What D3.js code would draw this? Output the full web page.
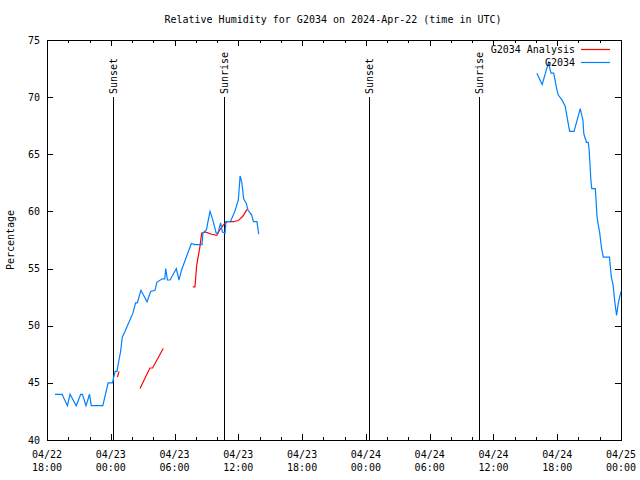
<!DOCTYPE html>
<html><head><meta charset="utf-8">
<script src="https://cdn.jsdelivr.net/npm/d3@7"></script>
<style>
body{margin:0;background:#fff;}
svg{display:block;}
text{font-family:"DejaVu Sans Mono","Liberation Mono",monospace;font-size:10px;fill:#000;}
</style></head><body>
<svg id="c" width="640" height="480"></svg>
<script>
const title = "Relative Humidity for G2034 on 2024-Apr-22 (time in UTC)";
const yLabel = "Percentage";
const yTicks = [40,45,50,55,60,65,70,75];
const xDomain = ["04-22 18:00","04-25 00:00"];

// Observed series "G2034" (null marks a gap)
const obsTimes = ["04-22 18:45","04-22 19:25","04-22 19:55","04-22 20:10","04-22 20:45","04-22 21:10","04-22 21:20","04-22 21:40","04-22 22:00","04-22 22:10","04-22 23:15","04-22 23:45",
"04-23 00:10","04-23 00:15","04-23 00:25","04-23 00:35","04-23 00:45","04-23 00:55","04-23 01:05","04-23 01:20","04-23 02:05","04-23 02:20","04-23 02:30","04-23 02:50","04-23 03:25","04-23 03:45","04-23 04:10","04-23 04:20","04-23 04:50","04-23 05:05","04-23 05:10","04-23 05:20","04-23 05:35","04-23 06:10","04-23 06:25","04-23 06:40","04-23 07:35","04-23 07:55","04-23 08:35","04-23 08:40","04-23 09:00","04-23 09:20","04-23 09:35","04-23 09:55","04-23 10:05","04-23 10:20","04-23 10:30","04-23 10:45","04-23 10:50","04-23 11:15","04-23 11:40","04-23 12:00","04-23 12:10","04-23 12:20","04-23 12:30","04-23 12:45","04-23 12:55","04-23 13:15","04-23 13:25","04-23 13:45","04-23 13:55",
"04-24 00:00",
"04-24 16:05","04-24 16:35","04-24 17:10","04-24 17:25","04-24 17:40","04-24 17:55","04-24 18:05","04-24 18:25","04-24 18:45","04-24 19:10","04-24 19:35","04-24 20:10","04-24 20:25","04-24 20:30","04-24 20:45","04-24 20:55","04-24 21:00","04-24 21:05","04-24 21:10","04-24 21:15","04-24 21:35","04-24 21:45","04-24 21:50","04-24 22:00","04-24 22:10","04-24 22:20","04-24 22:55","04-24 23:05","04-24 23:15","04-24 23:25","04-24 23:35","04-24 23:45","04-25 00:00"];
const obsValues = [44,44,43,44,43,44,44,43,44,43,43,45,
45,45.4,46,46,46.9,47.7,49,49.5,51.1,52,52,53.1,52.1,53,53.1,53.8,54.1,54.1,55,54,54,55,54,54.9,57.2,57.1,57.1,58.1,58.4,60,59.3,58.1,58.1,59,58.2,58.1,59.1,59.1,60,61,63.1,62.5,61.1,60.7,60.1,59.7,59.1,59.1,58,
null,
72.1,71.1,73,72.1,72.1,70.9,70.2,69.8,69.2,67,67,69,68,66.8,66.05,66.05,65.4,64.1,62.75,62,62,59.5,59,58.1,56.8,56,56,54.3,53.6,52.1,50.9,52,53];

// Analysis series "G2034 Analysis"
const anaTimes = ["04-23 00:38","04-23 00:46","04-23 01:30",
"04-23 02:45","04-23 03:41","04-23 03:56","04-23 04:56","04-23 06:00",
"04-23 07:43","04-23 07:55","04-23 08:05","04-23 08:23","04-23 08:33","04-23 08:52","04-23 09:29","04-23 09:58","04-23 10:16","04-23 10:35","04-23 10:54","04-23 11:32","04-23 12:00","04-23 12:26","04-23 12:50"];
const anaValues = [45.5,46.0,null,
44.5,46.3,46.3,48.0,null,
53.4,53.4,55.3,56.9,58.1,58.2,58.0,57.9,58.4,58.8,59.1,59.1,59.2,59.6,60.2];

const sunTimes = ["04-23 00:13","04-23 10:39","04-24 00:17","04-24 10:38"];
const sunLabels = ["Sunset","Sunrise","Sunset","Sunrise"];

const legendNames = ["G2034 Analysis","G2034"];
const colors = {ana:"#ff0000", obs:"#0080ff"};

const parse = s => d3.utcParse("%Y-%m-%d %H:%M")("2024-" + s);
const svg = d3.select("#c");
const L=47, R=621, T=40, B=440;
const x = d3.scaleUtc().domain(xDomain.map(parse)).range([L,R]);
const y = d3.scaleLinear().domain([40,75]).range([B,T]);

// title
svg.append("text").attr("x",333).attr("y",23).attr("text-anchor","middle").text(title);
// y label
svg.append("text").attr("transform","translate(14,240) rotate(-90)").attr("text-anchor","middle").text(yLabel);

const g = svg.append("g").attr("shape-rendering","crispEdges");
// ticks
const ticks = d3.utcHour.every(2).range(x.domain()[0], new Date(+x.domain()[1]+1));
ticks.forEach(t=>{
  const major = t.getUTCHours()%6===0;
  const len = major?6:3;
  const xx = Math.round(x(t))+0.5;
  g.append("line").attr("x1",xx).attr("x2",xx).attr("y1",B).attr("y2",B-len).attr("stroke","#000");
  g.append("line").attr("x1",xx).attr("x2",xx).attr("y1",T).attr("y2",T+len).attr("stroke","#000");
  if(major){
    svg.append("text").attr("x",x(t)).attr("y",458).attr("text-anchor","middle").text(d3.utcFormat("%m/%d")(t));
    svg.append("text").attr("x",x(t)).attr("y",471).attr("text-anchor","middle").text(d3.utcFormat("%H:%M")(t));
  }
});
yTicks.forEach(v=>{
  const yy = Math.round(y(v))+0.5;
  g.append("line").attr("x1",L).attr("x2",L+6).attr("y1",yy).attr("y2",yy).attr("stroke","#000");
  g.append("line").attr("x1",R).attr("x2",R-6).attr("y1",yy).attr("y2",yy).attr("stroke","#000");
  svg.append("text").attr("x",40).attr("y",y(v)).attr("dy","0.35em").attr("text-anchor","end").text(v);
});
// border
g.append("rect").attr("x",L+0.5).attr("y",T+0.5).attr("width",R-L).attr("height",B-T).attr("fill","none").attr("stroke","#000");

// sun lines
sunTimes.forEach((s,i)=>{
  const xx = Math.round(x(parse(s)))+0.5;
  g.append("line").attr("x1",xx).attr("x2",xx).attr("y1",y(70)).attr("y2",B).attr("stroke","#000");
  svg.append("text").attr("transform",`translate(${xx},94) rotate(-90)`).attr("dy","0.35em").attr("text-anchor","start").text(sunLabels[i]);
});

const mk = (ts,vs)=>ts.map((t,i)=>({t:parse(t),v:vs[i]}));
const line = d3.line().defined(d=>d.v!=null).x(d=>x(d.t)).y(d=>y(d.v));
svg.append("path").datum(mk(anaTimes,anaValues)).attr("d",line).attr("fill","none").attr("stroke",colors.ana).attr("stroke-width",1.2);
svg.append("path").datum(mk(obsTimes,obsValues)).attr("d",line).attr("fill","none").attr("stroke",colors.obs).attr("stroke-width",1.2);

// legend
svg.append("text").attr("x",575).attr("y",53).attr("text-anchor","end").text(legendNames[0]);
svg.append("line").attr("x1",581).attr("x2",610).attr("y1",49.5).attr("y2",49.5).attr("stroke",colors.ana).attr("stroke-width",1.2);
svg.append("text").attr("x",575).attr("y",66).attr("text-anchor","end").text(legendNames[1]);
svg.append("line").attr("x1",581).attr("x2",610).attr("y1",62.5).attr("y2",62.5).attr("stroke",colors.obs).attr("stroke-width",1.2);
</script>
</body></html>
